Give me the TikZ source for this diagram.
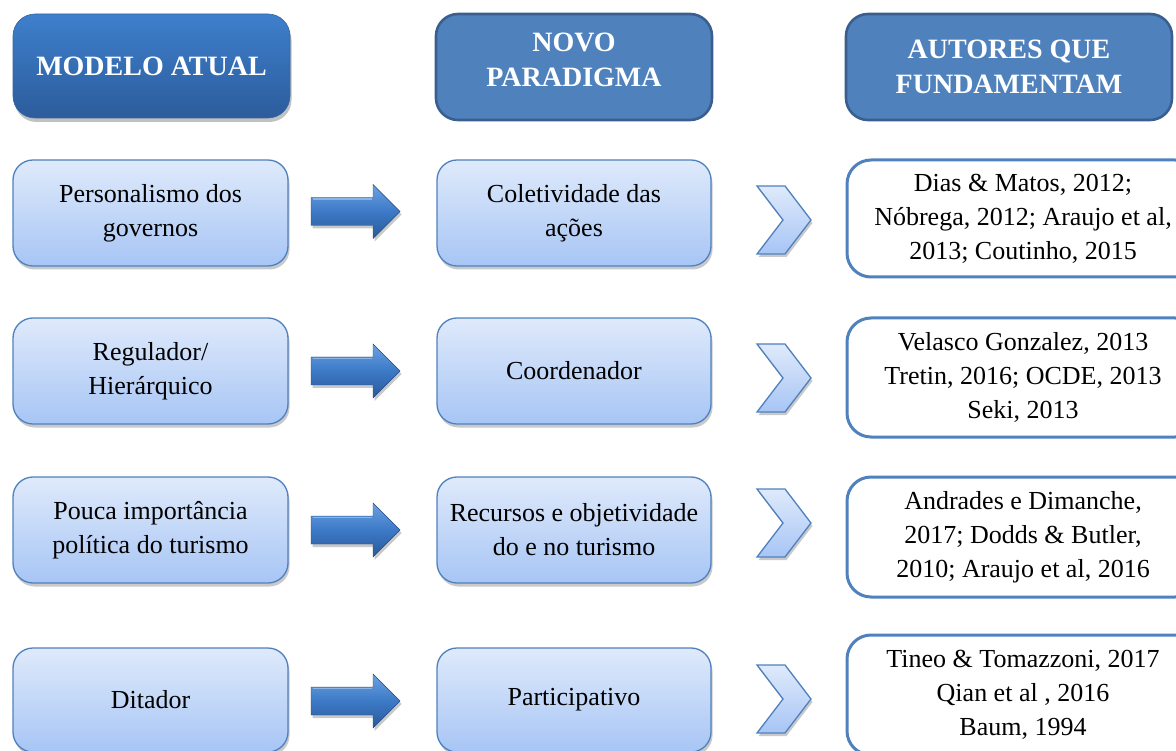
\documentclass[tikz,border=0pt]{standalone}
\usepackage{fontspec}
\setmainfont{Liberation Serif}
\usetikzlibrary{shadows}
\definecolor{hdrT}{HTML}{3E7FCD}
\definecolor{hdrB}{HTML}{2C5C9B}
\definecolor{hdrFill}{HTML}{4F81BD}
\definecolor{hdrLine}{HTML}{3A5F8E}
\definecolor{lightT}{HTML}{DFEAFB}
\definecolor{lightB}{HTML}{A7C5F5}
\definecolor{bord}{HTML}{4F81BD}
\definecolor{arrT}{HTML}{6CA2E2}
\definecolor{arrM}{HTML}{3C79C6}
\definecolor{arrB}{HTML}{2A5A99}
\newcommand\myblockarrow[1]{%
  \begin{scope}[shift={(0,#1)}]
    \path[arrowshape] (311,-14) -- (373,-14) -- (373,-27) -- (400,0) -- (373,27) -- (373,14) -- (311,14) -- cycle;
    \draw[line width=1.2pt, draw=arrT!70!white, opacity=0.8] (313,-12.5) -- (372,-12.5);
  \end{scope}}
\newcommand\mychevron[1]{%
  \begin{scope}[shift={(0,#1)}]
    \path[chevshape] (757,-34) -- (785,-34) -- (811,0) -- (785,34) -- (757,34) -- (783,0) -- cycle;
  \end{scope}}
\begin{document}
\begin{tikzpicture}[x=1pt,y=-1pt,
  hdrone/.style={rounded corners=22pt, draw=hdrT!80!black, line width=0.6pt, top color=hdrT, bottom color=hdrB,
    text=white, font=\bfseries\fontsize{28}{35}\selectfont, align=center,
    drop shadow={shadow xshift=1.5pt, shadow yshift=-4pt, opacity=0.35, fill=black!70}},
  hdrbox/.style={rounded corners=22pt, draw=hdrLine, line width=2.6pt, fill=hdrFill},
  hdrtext/.style={text=white, font=\bfseries\fontsize{28}{35}\selectfont, align=center},
  lightbox/.style={rounded corners=20pt, draw=bord, line width=1.3pt, top color=lightT, bottom color=lightB,
    align=center, font=\fontsize{26}{34}\selectfont,
    drop shadow={shadow xshift=1.5pt, shadow yshift=-3.5pt, opacity=0.3, fill=black!70}},
  leftbox/.style={lightbox, minimum width=275pt, minimum height=106pt},
  midbox/.style={lightbox, minimum width=274pt, minimum height=106pt},
  refbox/.style={rounded corners=24pt, draw=bord, line width=3pt, fill=white, minimum width=352pt,
    align=center, font=\fontsize{26}{34}\selectfont},
  arrowshape/.style={top color=arrT, bottom color=arrB, middle color=arrM, draw=arrB!85!black, line width=0.4pt,
    drop shadow={shadow xshift=1.5pt, shadow yshift=-3pt, opacity=0.3, fill=black!70}},
  chevshape/.style={top color=lightT, bottom color=lightB, draw=bord, line width=1.3pt,
    drop shadow={shadow xshift=1.5pt, shadow yshift=-3pt, opacity=0.3, fill=black!70}}
]
\useasboundingbox (0,0) rectangle (1176,751);
\clip (0,0) rectangle (1176,751);

% headers
\node[hdrone, minimum width=277pt, minimum height=104pt] (h1) at (151.5,66) {MODELO ATUAL};
\node[hdrbox, minimum width=276pt, minimum height=106pt] (h2) at (574,67) {};
\node[hdrtext] (h2t) at (574,60) {NOVO\\PARADIGMA};
\node[hdrbox, minimum width=326pt, minimum height=106pt] (h3) at (1009,67) {};
\node[hdrtext] (h3t) at (1009,67) {AUTORES QUE\\FUNDAMENTAM};

% row 1
\node[leftbox] (l1) at (150.5,213) {Personalismo dos\\governos};
\node[midbox] (m1) at (574,213) {Coletividade das\\ações};
\node[refbox, minimum height=117pt] (r1) at (1023,218.5) {Dias \& Matos, 2012;\\Nóbrega, 2012; Araujo et al,\\2013; Coutinho, 2015};
% row 2
\node[leftbox] (l2) at (150.5,371) {Regulador/\\Hierárquico};
\node[midbox] (m2) at (574,371) {Coordenador};
\node[refbox, minimum height=119pt] (r2) at (1023,377.5) {Velasco Gonzalez, 2013\\Tretin, 2016; OCDE, 2013\\Seki, 2013};
% row 3
\node[leftbox] (l3) at (150.5,530) {Pouca importância\\política do turismo};
\node[midbox] (m3) at (574,530) {Recursos e objetividade\\do e no turismo};
\node[refbox, minimum height=120pt] (r3) at (1023,537) {Andrades e Dimanche,\\2017; Dodds \& Butler,\\2010; Araujo et al, 2016};
% row 4
\node[leftbox, minimum height=104pt] (l4) at (150.5,700) {Ditador};
\node[midbox, minimum height=104pt] (m4) at (574,700) {Participativo};
\node[refbox, minimum height=120pt] (r4) at (1023,695) {Tineo \& Tomazzoni, 2017\\Qian et al , 2016\\Baum, 1994};

% block arrows
\myblockarrow{211.5}
\myblockarrow{371}
\myblockarrow{530}
\myblockarrow{701}
% chevrons
\mychevron{220}
\mychevron{378}
\mychevron{523}
\mychevron{699}
\end{tikzpicture}
\end{document}
